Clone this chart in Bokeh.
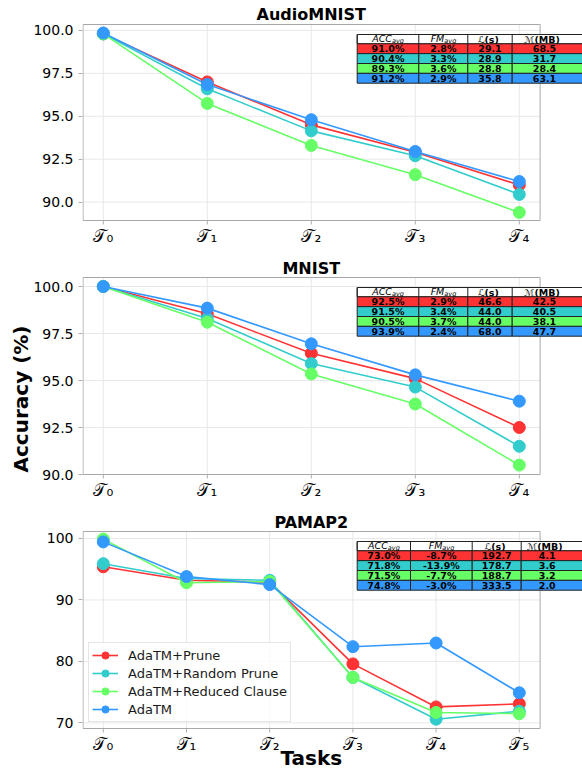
import numpy as np
from bokeh.plotting import figure
from bokeh.layouts import column
from bokeh.models import Range1d, FixedTicker, PrintfTickFormatter, Legend, LegendItem, Title
from bokeh.core.properties import value
from bokeh.embed import file_html
from bokeh.resources import INLINE

FONT = "DejaVu Sans"

# ---------------- data ----------------
SERIES = ["AdaTM+Prune", "AdaTM+Random Prune", "AdaTM+Reduced Clause", "AdaTM"]
COLORS = ["#ff3333", "#33cccc", "#66ff66", "#3399ff"]

TASKS_5 = ["𝒯₀", "𝒯₁", "𝒯₂", "𝒯₃", "𝒯₄"]
TASKS_6 = ["𝒯₀", "𝒯₁", "𝒯₂", "𝒯₃", "𝒯₄", "𝒯₅"]

AUDIO_PRUNE = [99.8, 97.0, 94.5, 92.9, 91.0]
AUDIO_RANDOM = [99.8, 96.6, 94.15, 92.7, 90.45]
AUDIO_REDUCED = [99.8, 95.75, 93.3, 91.6, 89.4]
AUDIO_ADATM = [99.85, 96.85, 94.8, 92.95, 91.2]

MNIST_PRUNE = [100.0, 98.55, 96.45, 95.1, 92.5]
MNIST_RANDOM = [100.0, 98.3, 95.9, 94.65, 91.5]
MNIST_REDUCED = [100.0, 98.1, 95.35, 93.75, 90.5]
MNIST_ADATM = [100.0, 98.85, 96.95, 95.3, 93.9]

PAMAP_PRUNE = [95.4, 93.2, 92.9, 79.6, 72.6, 73.1]
PAMAP_RANDOM = [95.9, 93.5, 93.2, 77.4, 70.6, 71.9]
PAMAP_REDUCED = [99.9, 92.8, 93.0, 77.4, 71.7, 71.5]
PAMAP_ADATM = [99.45, 93.8, 92.5, 82.4, 83.0, 74.9]

# table values (ACC_avg %, FM_avg %, L seconds, M MB), rows in SERIES order
AUDIO_ACC = [91.0, 90.4, 89.3, 91.2]
AUDIO_FM = [2.8, 3.3, 3.6, 2.9]
AUDIO_LAT = [29.1, 28.9, 28.8, 35.8]
AUDIO_MEM = [68.5, 31.7, 28.4, 63.1]

MNIST_ACC = [92.5, 91.5, 90.5, 93.9]
MNIST_FM = [2.9, 3.4, 3.7, 2.4]
MNIST_LAT = [46.6, 44.0, 44.0, 68.0]
MNIST_MEM = [42.5, 40.5, 38.1, 47.7]

PAMAP_ACC = [73.0, 71.8, 71.5, 74.8]
PAMAP_FM = [-8.7, -13.9, -7.7, -3.0]
PAMAP_LAT = [192.7, 178.7, 188.7, 333.5]
PAMAP_MEM = [4.1, 3.6, 3.2, 2.0]

Y_TICKS_FINE = [90.0, 92.5, 95.0, 97.5, 100.0]
Y_TICKS_COARSE = [70, 80, 90, 100]

# ---------------- layout ----------------
WIDTH = 582
LEFT = 82
FRAME_W = WIDTH - LEFT
GRID = "#e8e8e8"
EDGE = "#222222"


def make_panel(title, tasks, series, table, g, legend=False, ylabel=False, xlabel=False):
    ky, kx = g["ky"], g["kx"]
    ybot = g["ybot"]
    fig_bottom = g["fig_top"] + g["height"]
    ytop = ybot + (g["ax_bottom"] - g["ax_top"]) / ky
    y_start = ybot - (fig_bottom - g["ax_bottom"]) / ky
    y_end = ybot + (g["ax_bottom"] - g["fig_top"]) / ky
    x_end = g["x_start"] + FRAME_W / kx
    p = figure(width=WIDTH, height=g["height"], output_backend="svg", toolbar_location=None,
               x_range=Range1d(g["x_start"], x_end), y_range=Range1d(y_start, y_end),
               x_axis_location=None,
               min_border_left=LEFT, min_border_right=0, min_border_top=0, min_border_bottom=0)
    p.outline_line_color = None
    p.background_fill_color = "white"
    p.xgrid.visible = False
    p.ygrid.visible = False

    # y axis (real axis)
    ax = p.yaxis[0]
    ax.ticker = FixedTicker(ticks=g["yticks"])
    ax.formatter = PrintfTickFormatter(format=g["yfmt"])
    ax.axis_line_color = None
    ax.major_tick_line_color = "#b0b0b0"
    ax.major_tick_out = 4
    ax.major_tick_in = 0
    ax.minor_tick_line_color = None
    ax.major_label_text_font = FONT
    ax.major_label_text_color = "black"
    ax.major_label_text_font_size = "14px"
    ax.major_label_standoff = 5

    xs = list(range(len(tasks)))
    n = len(xs)
    x_left = g["x_start"] + 0.5 / kx
    # grids
    p.segment(x0=xs, y0=[ybot] * n, x1=xs, y1=[ytop] * n, line_color=GRID, line_width=1)
    m = len(g["yticks"])
    p.segment(x0=[g["x_start"]] * m, y0=g["yticks"], x1=[g["axes_right"]] * m, y1=g["yticks"],
              line_color=GRID, line_width=1)
    # x ticks and tick labels
    p.segment(x0=xs, y0=[ybot] * n, x1=xs, y1=[ybot - 4 / ky] * n, line_color="#b0b0b0",
              line_width=1)
    p.text(x=xs, y=[ybot - 5.5 / ky] * n, text=tasks, text_align="center", text_baseline="top",
           text_font=value(FONT), text_font_size=value("17px"), text_color="black")

    # axes box
    p.quad(left=[x_left], right=[g["axes_right"]], bottom=[ybot], top=[ytop],
           fill_color=None, line_color="#a8a8a8", line_width=1)

    # series
    items = []
    for name, vals, col in zip(SERIES, series, COLORS):
        lr = p.line(xs, vals, line_color=col, line_width=1.6)
        sr = p.scatter(xs, vals, size=12, fill_color=col, line_color=col)
        items.append(LegendItem(label=name, renderers=[lr, sr]))

    xc = (g["x_start"] + g["axes_right"]) / 2
    # title
    p.text(x=[xc], y=[ytop + g["title_gap"] / ky], text=[title], text_align="center",
           text_baseline="middle", text_font=value(FONT), text_font_size=value("16px"),
           text_font_style="bold", text_color="black")

    # table
    def tx(px):
        return g["x_start"] + px / kx

    def ty(px):
        return ytop - px / ky

    edges = g["col_edges"]
    t0, hh, rh = 10.0, 9.3, 9.85
    p.quad(left=[tx(edges[0])], right=[tx(edges[-1])], top=[ty(t0)], bottom=[ty(t0 + hh)],
           fill_color="white", line_color=EDGE, line_width=1)
    for j in range(4):
        p.quad(left=[tx(edges[j])] * 4, right=[tx(edges[j + 1])] * 4,
               top=[ty(t0 + hh + i * rh) for i in range(4)],
               bottom=[ty(t0 + hh + (i + 1) * rh) for i in range(4)],
               fill_color=COLORS, line_color=EDGE, line_width=1)
        p.segment(x0=[tx(edges[j])], x1=[tx(edges[j])], y0=[ty(t0)], y1=[ty(t0 + hh)],
                  line_color=EDGE, line_width=1)
    centers = [(edges[j] + edges[j + 1]) / 2 for j in range(3)] + [g["c4"]]
    hy = ty(t0 + hh / 2)
    heads = [("ACC", "avg", 4), ("FM", "avg", 1)]
    for j, (main, sub, off) in enumerate(heads):
        p.text(x=[tx(centers[j] + off)], y=[hy], text=[main], text_align="right",
               text_baseline="middle", text_font=value(FONT), text_font_size=value("9.5px"),
               text_font_style="italic", text_color="black", y_offset=-1)
        p.text(x=[tx(centers[j] + off)], y=[hy], text=[sub], text_align="left",
               text_baseline="middle", text_font=value(FONT), text_font_size=value("6.5px"),
               text_font_style="italic", text_color="black", y_offset=2)
    heads2 = [("ℒ", " (s)", -5.5, 2), ("ℳ", " (MB)", -10, 3)]
    for sym, unit, off, j in heads2:
        p.text(x=[tx(centers[j] + off)], y=[hy], text=[sym], text_align="right",
               text_baseline="middle", text_font=value(FONT), text_font_size=value("9.5px"),
               text_color="black")
        p.text(x=[tx(centers[j] + off)], y=[hy], text=[unit], text_align="left",
               text_baseline="middle", text_font=value(FONT), text_font_size=value("9.5px"),
               text_font_style="bold", text_color="black")
    acc, fm, lat, mem = table
    cols = [["%.1f%%" % v for v in acc], ["%.1f%%" % v for v in fm],
            ["%.1f" % v for v in lat], ["%.1f" % v for v in mem]]
    for j in range(4):
        p.text(x=[tx(centers[j])] * 4, y=[ty(t0 + hh + (i + 0.5) * rh) for i in range(4)],
               text=cols[j], text_align="center", text_baseline="middle",
               text_font=value(FONT), text_font_size=value("9.5px"), text_font_style="bold",
               text_color="black")

    if legend:
        lg = Legend(items=items, location=(6, int(round(fig_bottom - 722.0))),
                    orientation="vertical")
        lg.label_text_font = FONT
        lg.label_text_font_size = "13px"
        lg.label_text_color = "#1a1a1a"
        lg.glyph_width = 26
        lg.glyph_height = 18
        lg.label_height = 18
        lg.spacing = 0
        lg.padding = 3
        lg.margin = 0
        lg.label_standoff = 10
        lg.border_line_color = "#cccccc"
        lg.background_fill_alpha = 0.8
        p.add_layout(lg, "center")

    if ylabel:
        p.add_layout(Title(text="Accuracy (%)", align="left", offset=int(fig_bottom - 472),
                           standoff=-6, vertical_align="middle", text_font=FONT,
                           text_font_size="20px", text_font_style="bold", text_color="black"),
                     "left")
    if xlabel:
        p.text(x=[xc], y=[ybot - 29 / ky], text=["Tasks"], text_align="center",
               text_baseline="middle", text_font=value(FONT), text_font_size=value("20px"),
               text_font_style="bold", text_color="black")
    return p


G1 = dict(fig_top=0, height=255, ax_top=24, ax_bottom=220, x_start=-0.2, kx=104.0,
          ybot=88.93, ky=17.17, axes_right=4.2, yticks=Y_TICKS_FINE, yfmt="%.1f",
          title_gap=10, col_edges=[274.7, 336.3, 385.3, 429.7, 505.0], c4=462.0)
G2 = dict(fig_top=255, height=250, ax_top=277, ax_bottom=474, x_start=-0.2, kx=104.0,
          ybot=90.0, ky=18.8, axes_right=4.2, yticks=Y_TICKS_FINE, yfmt="%.1f",
          title_gap=9, col_edges=[274.7, 336.3, 385.3, 429.7, 505.0], c4=462.0)
G3 = dict(fig_top=505, height=263, ax_top=531, ax_bottom=728, x_start=-0.25, kx=83.2,
          ybot=69.09, ky=6.147, axes_right=5.25, yticks=Y_TICKS_COARSE, yfmt="%d",
          title_gap=9, col_edges=[274.7, 328.0, 389.7, 438.7, 505.0], c4=464.7)

p1 = make_panel("AudioMNIST", TASKS_5,
                [AUDIO_PRUNE, AUDIO_RANDOM, AUDIO_REDUCED, AUDIO_ADATM],
                [AUDIO_ACC, AUDIO_FM, AUDIO_LAT, AUDIO_MEM], G1)
p2 = make_panel("MNIST", TASKS_5,
                [MNIST_PRUNE, MNIST_RANDOM, MNIST_REDUCED, MNIST_ADATM],
                [MNIST_ACC, MNIST_FM, MNIST_LAT, MNIST_MEM], G2, ylabel=True)
p3 = make_panel("PAMAP2", TASKS_6,
                [PAMAP_PRUNE, PAMAP_RANDOM, PAMAP_REDUCED, PAMAP_ADATM],
                [PAMAP_ACC, PAMAP_FM, PAMAP_LAT, PAMAP_MEM], G3, legend=True, xlabel=True)

layout = column(p1, p2, p3, spacing=0)
open("out.html", "w").write(file_html(layout, INLINE))
